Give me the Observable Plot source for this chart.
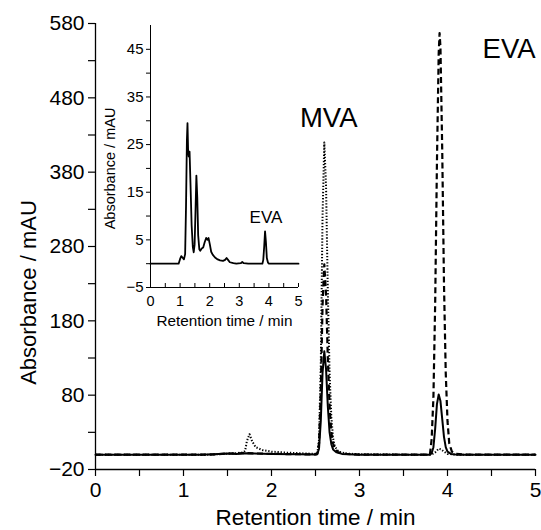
<!DOCTYPE html>
<html>
<head>
<meta charset="utf-8">
<script src="https://cdn.jsdelivr.net/npm/d3@7"></script>
<script src="https://cdn.jsdelivr.net/npm/@observablehq/plot@0.6"></script>
<style>
  html, body { margin: 0; padding: 0; background: #fff; }
  #wrap { position: relative; width: 541px; height: 530px; font-family: "Liberation Sans", Arial, sans-serif; }
  #inset { position: absolute; left: 95px; top: 20px; }
</style>
</head>
<body>
<div id="wrap"><div id="main"></div><div id="inset"></div></div>
<script>
// ---------- main chromatogram data (time in min, absorbance in mAU) ----------
const solidT = [0, 1.2, 1.4, 1.5, 1.6, 1.7, 1.8, 2.0, 2.3, 2.5, 2.52, 2.54, 2.56, 2.58, 2.60, 2.62, 2.64, 2.66, 2.68, 2.70, 2.74, 2.8, 3.0, 3.8, 3.82, 3.84, 3.86, 3.88, 3.90, 3.92, 3.94, 3.96, 3.98, 4.00, 4.04, 4.1, 5];
const solidV = [0, 0, 1, 1.5, 1, 2, 1.5, 1, 0.5, 0.3, 0.5, 8, 45, 110, 139, 115, 65, 30, 14, 7, 3, 1, 0, 0, 2, 10, 35, 68, 81, 72, 48, 24, 10, 4, 1, 0, 0];

const dashT = [0, 1.3, 1.5, 1.7, 2.0, 2.5, 2.52, 2.54, 2.56, 2.58, 2.60, 2.62, 2.64, 2.66, 2.68, 2.70, 2.72, 2.76, 2.85, 3.0, 3.8, 3.82, 3.84, 3.86, 3.88, 3.90, 3.91, 3.92, 3.94, 3.96, 3.98, 4.00, 4.02, 4.05, 4.1, 4.2, 5];
const dashV = [0, 0, 1.5, 2, 1, 0.3, 1, 15, 85, 200, 256, 215, 130, 65, 30, 15, 8, 3, 1, 0, 0, 21, 77, 204, 393, 540, 567, 548, 410, 230, 110, 45, 15, 4, 1, 0, 0];

const dotT = [0, 1.3, 1.45, 1.6, 1.68, 1.70, 1.72, 1.75, 1.78, 1.82, 1.9, 2.0, 2.2, 2.4, 2.52, 2.54, 2.56, 2.58, 2.60, 2.62, 2.64, 2.66, 2.68, 2.70, 2.72, 2.76, 2.85, 3.0, 3.5, 3.82, 3.86, 3.90, 3.93, 3.96, 4.0, 4.1, 5];
const dotV = [0, 0, 1, 2, 3, 5, 18, 27.5, 18, 10, 6, 4, 2.5, 1.5, 1, 20, 120, 320, 420, 360, 220, 110, 50, 22, 11, 4, 1.5, 0.5, 0, 0, 3, 8, 7, 4, 1, 0, 0];

// ---------- inset chromatogram ----------
const insetT = [0, 0.95, 1.0, 1.04, 1.08, 1.13, 1.17, 1.2, 1.23, 1.25, 1.27, 1.29, 1.32, 1.35, 1.39, 1.43, 1.46, 1.49, 1.52, 1.55, 1.58, 1.61, 1.65, 1.68, 1.73, 1.78, 1.83, 1.88, 1.92, 1.96, 2.0, 2.05, 2.1, 2.18, 2.27, 2.35, 2.45, 2.52, 2.57, 2.62, 2.68, 2.8, 2.9, 3.05, 3.1, 3.15, 3.3, 3.78, 3.81, 3.84, 3.87, 3.9, 3.93, 3.97, 4.0, 5];
const insetV = [0, 0, 1.0, 1.6, 1.3, 0.9, 2, 12, 26, 29.5, 24, 22.5, 23.5, 17, 8, 3.5, 2.4, 4, 11, 18.5, 14, 6, 3, 2.7, 3.2, 3.4, 4.5, 5.4, 5.0, 5.4, 4.2, 2.5, 1.9, 1.3, 0.9, 0.7, 0.6, 0.8, 1.2, 0.8, 0.3, 0.1, 0, 0.1, 0.35, 0.1, 0, 0, 0.8, 3.5, 6.8, 4.5, 1.2, 0.2, 0, 0];

// ---------- ticks & labels ----------
const mainXTicks = [0, 1, 2, 3, 4, 5];
const mainXMinor = [0.5, 1.5, 2.5, 3.5, 4.5];
const mainYTicks = [-20, 80, 180, 280, 380, 480, 580];
const mainYMinor = [30, 130, 230, 330, 430, 530];
const insetXTicks = [0, 1, 2, 3, 4, 5];
const insetXMinor = [0.5, 1.5, 2.5, 3.5, 4.5];
const insetYTicks = [-5, 5, 15, 25, 35, 45];
const insetYMinor = [0, 10, 20, 30, 40];
const xTitle = "Retention time / min";
const yTitle = "Absorbance / mAU";
const mainLabels = [{name: "MVA", t: 2.65, v: 452}, {name: "EVA", t: 4.7, v: 546}];
const insetLabels = [{name: "EVA", t: 3.9, v: 9.6}];

const toRows = (T, V) => T.map((t, i) => ({t, v: V[i]}));
const font = "Liberation Sans, Arial, sans-serif";

const main = Plot.plot({
  width: 541, height: 530,
  marginLeft: 95, marginRight: 6, marginTop: 23, marginBottom: 61,
  style: {fontFamily: font, background: "transparent", color: "#000"},
  x: {domain: [0, 5]},
  y: {domain: [-20, 580]},
  marks: [
    Plot.ruleX([0], {stroke: "#000", strokeWidth: 1.3}),
    Plot.ruleY([-20], {stroke: "#000", strokeWidth: 1.3}),
    Plot.axisY(mainYTicks, {tickSize: 7, tickPadding: 4, fontSize: 21, label: null, strokeWidth: 1.2}),
    Plot.axisY(mainYMinor, {tickSize: 7, tickFormat: () => "", label: null, strokeWidth: 1.2}),
    Plot.axisX(mainXTicks, {tickSize: 7, tickPadding: 6, fontSize: 21, label: null, strokeWidth: 1.2}),
    Plot.axisX(mainXMinor, {tickSize: 7, tickFormat: () => "", label: null, strokeWidth: 1.2}),
    Plot.text([xTitle], {frameAnchor: "bottom", dy: 55, fontSize: 22.5, fill: "#000"}),
    Plot.text([yTitle], {frameAnchor: "left", textAnchor: "middle", dx: -67, dy: 46, rotate: -90, fontSize: 22, fill: "#000"}),
    Plot.line(toRows(dotT, dotV), {x: "t", y: "v", stroke: "#000", strokeWidth: 2, strokeDasharray: "1.3,1.8", strokeLinecap: "butt"}),
    Plot.line(toRows(dashT, dashV), {x: "t", y: "v", stroke: "#000", strokeWidth: 2.2, strokeDasharray: "6,3.5", strokeLinecap: "butt"}),
    Plot.line(toRows(solidT, solidV), {x: "t", y: "v", stroke: "#000", strokeWidth: 2}),
    Plot.text(mainLabels, {x: "t", y: "v", text: "name", fontSize: 27.5, fill: "#000"})
  ]
});
document.getElementById("main").append(main);

const inset = Plot.plot({
  width: 210, height: 318,
  marginLeft: 55, marginRight: 7, marginTop: 5, marginBottom: 51,
  style: {fontFamily: font, background: "transparent", color: "#000"},
  x: {domain: [0, 5]},
  y: {domain: [-5, 50]},
  marks: [
    Plot.ruleX([0], {stroke: "#000", strokeWidth: 1}),
    Plot.ruleY([-5], {stroke: "#000", strokeWidth: 1}),
    Plot.axisY(insetYTicks, {tickSize: 4, tickPadding: 3, fontSize: 15, label: null}),
    Plot.axisY(insetYMinor, {tickSize: 4, tickFormat: () => "", label: null}),
    Plot.axisX(insetXTicks, {tickSize: -4, tickPadding: 12, fontSize: 14.5, label: null}),
    Plot.axisX(insetXMinor, {tickSize: -4, tickFormat: () => "", label: null}),
    Plot.text([xTitle], {frameAnchor: "bottom", dy: 38, fontSize: 15.3, fill: "#000"}),
    Plot.text([yTitle], {frameAnchor: "left", textAnchor: "middle", dx: -40, dy: 12, rotate: -90, fontSize: 14.5, fill: "#000"}),
    Plot.line(toRows(insetT, insetV), {x: "t", y: "v", stroke: "#000", strokeWidth: 1.8}),
    Plot.text(insetLabels, {x: "t", y: "v", text: "name", fontSize: 17, fill: "#000"})
  ]
});
document.getElementById("inset").append(inset);
</script>
</body>
</html>
